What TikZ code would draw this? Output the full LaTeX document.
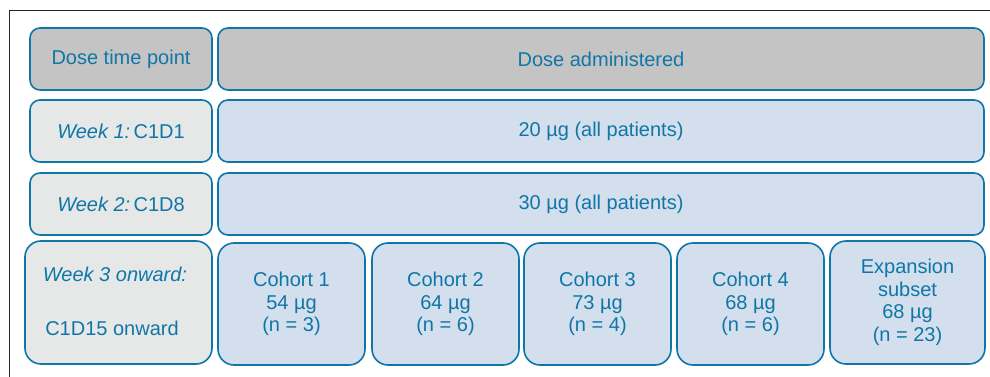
\documentclass[tikz,border=0pt]{standalone}
\usepackage{fontspec}
\setmainfont{Liberation Sans}
\usetikzlibrary{positioning}
\definecolor{doseblue}{RGB}{16,118,168}
\definecolor{hdrgray}{RGB}{196,196,196}
\definecolor{tptgray}{RGB}{230,232,232}
\definecolor{dosefill}{RGB}{211,223,236}
\tikzset{
  cell/.style={draw=doseblue,line width=1.6pt,rounded corners=10pt,text=doseblue,
    align=center,inner sep=0pt,font=\fontsize{20}{22.5}\selectfont},
  hdrcell/.style={cell,fill=hdrgray},
  tptcell/.style={cell,fill=tptgray},
  dosecell/.style={cell,fill=dosefill},
  cohort/.style={dosecell,rounded corners=16pt,minimum width=147pt,minimum height=122pt},
}

\begin{document}
\begin{tikzpicture}[x=1pt,y=-1pt]
  \useasboundingbox (0,0) rectangle (990,377);
  % --- frame (cut off on the right and at the bottom) ---
  \draw[black!85,line width=0.9pt] (990,10) -- (9,10) -- (9,377);
  % --- header row ---
  \node[hdrcell,minimum width=182pt,minimum height=62pt] (tphdr) at (121,59) {Dose time point};
  \node[hdrcell,minimum width=766pt,minimum height=62pt] (dosehdr) at (601,59) {Dose administered};
  % --- week 1 and week 2 ---
  \node[tptcell,minimum width=182pt,minimum height=62pt] (wk1) at (121,131) {\textit{Week 1:}\,C1D1};
  \node[dosecell,minimum width=766pt,minimum height=62pt] (dose1) at (601,131) {20 µg (all patients)};
  \node[tptcell,minimum width=182pt,minimum height=62pt] (wk2) at (121,204) {\textit{Week 2:}\,C1D8};
  \node[dosecell,minimum width=766pt,minimum height=62pt] (dose2) at (601,204) {30 µg (all patients)};
  % --- week 3 onward ---
  \node[tptcell,rounded corners=16pt,minimum width=187pt,minimum height=123pt] (wk3) at (118.5,302.5) {};
  \node[text=doseblue,font=\fontsize{20}{22.5}\selectfont\itshape] (wk3a) at (115,274) {Week 3 onward:};
  \node[text=doseblue,font=\fontsize{20}{22.5}\selectfont] (wk3b) at (112,328) {C1D15 onward};
  \node[cohort] (coh1) at (291.5,304) {Cohort 1\\54 µg\\(n = 3)};
  \node[cohort] (coh2) at (445.5,304) {Cohort 2\\64 µg\\(n = 6)};
  \node[cohort] (coh3) at (597.5,304) {Cohort 3\\73 µg\\(n = 4)};
  \node[cohort] (coh4) at (750.5,304) {Cohort 4\\68 µg\\(n = 6)};
  \node[cohort,minimum width=155pt,minimum height=123pt] (expn) at (907.5,302.5) {Expansion\\subset\\68 µg\\(n = 23)};
\end{tikzpicture}
\end{document}
